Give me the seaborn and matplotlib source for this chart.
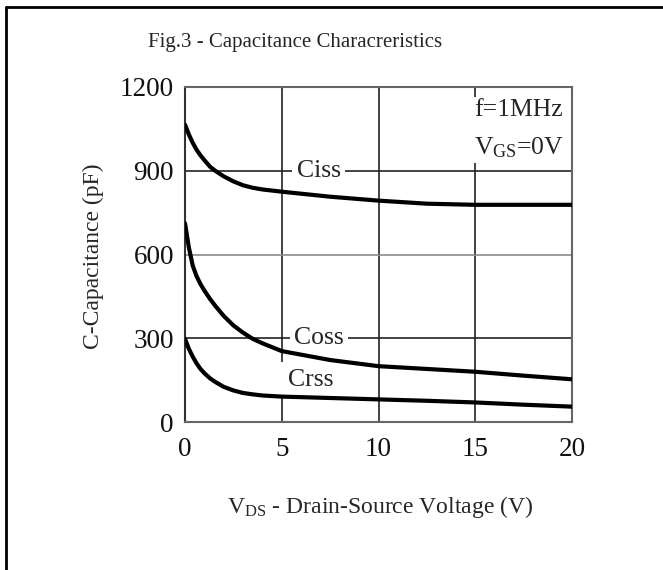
import matplotlib
matplotlib.use("Agg")
import matplotlib.pyplot as plt
from matplotlib.lines import Line2D
import pandas as pd
import seaborn as sns

# Drain-source voltage (V) sample points
vds = [0, 0.2, 0.4, 0.6, 0.8, 1.0, 1.3, 1.6, 2.0, 2.5, 3.0, 3.5, 4.0, 5.0, 7.5, 10, 12.5, 15, 17.5, 20]
# Capacitances (pF)
ciss = [1065, 1030, 1000, 975, 955, 938, 914, 898, 880, 862, 848, 839, 833, 825, 807, 793, 782, 778, 778, 778]
coss = [712, 625, 560, 522, 494, 471, 440, 413, 380, 346, 320, 298, 282, 254, 222, 200, 190, 180, 166, 153]
crss = [298, 262, 234, 210, 190, 175, 156, 142, 126, 113, 104, 99, 95, 91, 86, 81, 76, 70, 62, 55]

x_ticks = [0, 5, 10, 15, 20]
y_ticks = [0, 300, 600, 900, 1200]

sns.set_theme(style="white")
plt.rcParams["font.family"] = ["Liberation Serif", "DejaVu Serif"]
plt.rcParams["mathtext.fontset"] = "custom"
plt.rcParams["mathtext.rm"] = "Liberation Serif"
plt.rcParams["mathtext.it"] = "Liberation Serif:italic"

df = pd.DataFrame({
    "vds": vds * 3,
    "cap": ciss + coss + crss,
    "series": ["Ciss"] * len(vds) + ["Coss"] * len(vds) + ["Crss"] * len(vds),
})

fig = plt.figure(figsize=(6.63, 5.70), dpi=100)
ax = fig.add_axes([185 / 663, 1 - 422 / 570, (572 - 185) / 663, (422 - 87) / 570])

# grid
for v in [5, 10, 15]:
    ax.axvline(v, color="#222222", lw=1.2, zorder=1)
for c, col in [(300, "#222222"), (600, "#8a8a8a"), (900, "#222222")]:
    ax.axhline(c, color=col, lw=1.2, zorder=1)

sns.lineplot(data=df, x="vds", y="cap", hue="series",
             palette=["black", "black", "black"], lw=3.0,
             legend=False, ax=ax, zorder=3)

ax.set_xlim(0, 20)
ax.set_ylim(0, 1200)
ax.set_xticks(x_ticks)
ax.set_yticks(y_ticks)
ax.set_xticklabels([str(t) for t in x_ticks], fontsize=19.5)
ax.set_yticklabels([str(t) for t in y_ticks], fontsize=19.5)
ax.tick_params(axis="both", length=0, colors="#111111")
ax.tick_params(axis="x", pad=11)
ax.tick_params(axis="y", pad=8)
ax.set_xlabel("")
ax.set_ylabel("")
for s in ax.spines.values():
    s.set_color("#666666")
    s.set_linewidth(1.5)
ax.spines["left"].set_color("#333333")

# series labels sit on the grid lines, blanking them out behind the text
box = dict(facecolor="white", edgecolor="none", pad=3)
ax.text(6.9, 900, "Ciss", fontsize=18.5, ha="center", va="center", bbox=box, zorder=2)
ax.text(6.9, 300, "Coss", fontsize=18.5, ha="center", va="center", bbox=box, zorder=2)
ax.text(6.5, 150, "Crss", fontsize=18.5, ha="center", va="center",
        bbox=dict(facecolor="white", edgecolor="none", pad=5), zorder=2)
ax.text(14.95, 1048, "f=1MHz\nV$_{\\rm GS}$=0V", fontsize=18.5, ha="left", va="center",
        linespacing=1.75, bbox=dict(facecolor="white", edgecolor="none", pad=2), zorder=4)

fig.text(295 / 663, 1 - 42 / 570, "Fig.3 - Capacitance Characreristics",
         fontsize=15, ha="center", va="center")
fig.text(93 / 663, 1 - 256 / 570, "C-Capacitance (pF)", fontsize=17,
         rotation=90, ha="center", va="center")
fig.text(380 / 663, 1 - 507 / 570, "V$_{\\rm DS}$ - Drain-Source Voltage (V)",
         fontsize=17, ha="center", va="center")

# frame lines along the top and left edges
fig.add_artist(Line2D([6 / 663, 1], [1 - 6.5 / 570, 1 - 6.5 / 570],
                      transform=fig.transFigure, color="black", lw=2))
fig.add_artist(Line2D([6 / 663, 6 / 663], [0, 1 - 6.5 / 570],
                      transform=fig.transFigure, color="black", lw=2))

fig.savefig("out.png", dpi=100)
